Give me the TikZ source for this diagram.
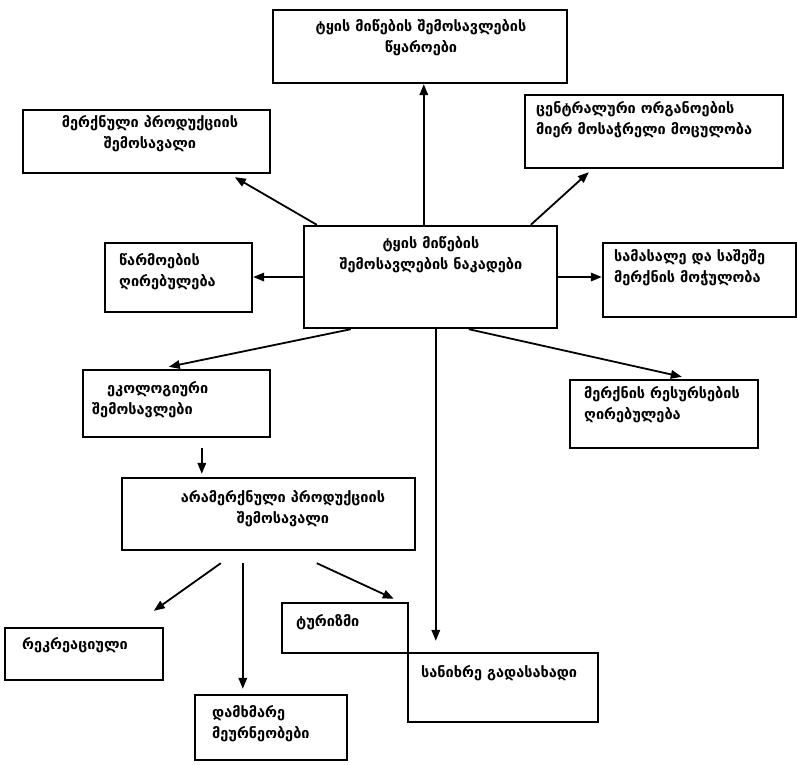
\documentclass[tikz,border=0pt]{standalone}
\usepackage{fontspec}
\setmainfont{DejaVu Sans}
\newfontfamily\geo[Script=Georgian]{DejaVu Sans Bold}
\usetikzlibrary{fit,calc,arrows.meta}
\begin{document}
\begin{tikzpicture}[x=1pt,y=-1pt,
  bx/.style={draw,line width=2.4pt,inner sep=0pt},
  tx/.style={inner sep=0pt,font=\geo\fontsize{14.5}{21}\selectfont,align=left},
  txc/.style={inner sep=0pt,font=\geo\fontsize{14.5}{21}\selectfont,align=center},
  arr/.style={line width=1.8pt,-{Triangle[length=11pt,width=8.5pt]}}]
\useasboundingbox (0,0) rectangle (797,764);
% boxes
\node[bx,fit={(273,10)(567,83)}] (top) {};
\node[bx,fit={(23,110)(270,173)}] (b2) {};
\node[bx,fit={(525,95)(783,168)}] (b3) {};
\node[bx,fit={(105,243)(252,312)}] (b4) {};
\node[bx,fit={(304,226)(557,328)}] (c) {};
\node[bx,fit={(603,243)(796,317)}] (b6) {};
\node[bx,fit={(83,370)(270,437)}] (b8) {};
\node[bx,fit={(570,380)(758,448)}] (b7) {};
\node[bx,fit={(122,478)(415,550)}] (b9) {};
\node[bx,fit={(5,628)(163,680)}] (b10) {};
\node[bx,fit={(282,603)(408,653)}] (b12) {};
\node[bx,fit={(408,653)(598,722)}] (b13) {};
\node[bx,fit={(195,695)(347,760)}] (b11) {};
% texts
\node[txc] (ttop) at (421,38) {ტყის მიწების შემოსავლების\\წყაროები};
\node[txc] (tb2) at (150,134) {მერქნული პროდუქციის\\შემოსავალი};
\node[tx,anchor=west] (tb3) at (536,120) {ცენტრალური ორგანოების\\მიერ მოსაჭრელი მოცულობა};
\node[tx,anchor=west] (tb4) at (119,272) {წარმოების\\ღირებულება};
\node[txc] (tc) at (431,255) {ტყის მიწების\\შემოსავლების ნაკადები};
\node[tx,anchor=west] (tb6) at (614,268) {სამასალე და საშეშე\\მერქნის მოჭულობა};
\node[tx,anchor=west] (tb8) at (92,400) {\hspace*{15pt}ეკოლოგიური\\შემოსავლები};
\node[tx,anchor=west] (tb7) at (584,405) {მერქნის რესურსების\\ღირებულება};
\node[txc] (tb9) at (283,509) {არამერქნული პროდუქციის\\შემოსავალი};
\node[tx,anchor=west] (tb10) at (22,645) {რეკრეაციული};
\node[tx,anchor=west] (tb12) at (296,622) {ტურიზმი};
\node[tx,anchor=west] (tb13) at (421,673) {სანიხრე გადასახადი};
\node[tx,anchor=west] (tb11) at (212,724) {დამხმარე\\მეურნეობები};
% arrows
\draw[arr] ($(c.north west)+(121,0)$) -- ($(top.south west)+(152,0)$);
\draw[arr] ($(c.north west)+(14,0)$) -- ($(b2.south west)+(213,3)$);
\draw[arr] ($(c.north west)+(228,0)$) -- ($(b3.south west)+(65,3)$);
\draw[arr] (c.west) -- (c.west -| b4.east);
\draw[arr] (c.east) -- (c.east -| b6.west);
\draw[arr] ($(c.south west)+(48,0)$) -- ($(b8.north west)+(87,-2)$);
\draw[arr] ($(c.south west)+(166,0)$) -- ($(b7.north west)+(113,-2)$);
\draw[arr] ($(c.south west)+(133,0)$) -- ($(b13.north west)+(29,-11)$);
\draw[arr] ($(b8.south west)+(120,10)$) -- ($(b9.north west)+(81,-3)$);
\draw[arr] ($(b9.south west)+(100,12)$) -- ($(b10.north west)+(150,-16)$);
\draw[arr] ($(b9.south west)+(122,12)$) -- ($(b11.north west)+(49,-5)$);
\draw[arr] ($(b9.south west)+(196,12)$) -- ($(b12.north west)+(113,-3)$);
\end{tikzpicture}
\end{document}
